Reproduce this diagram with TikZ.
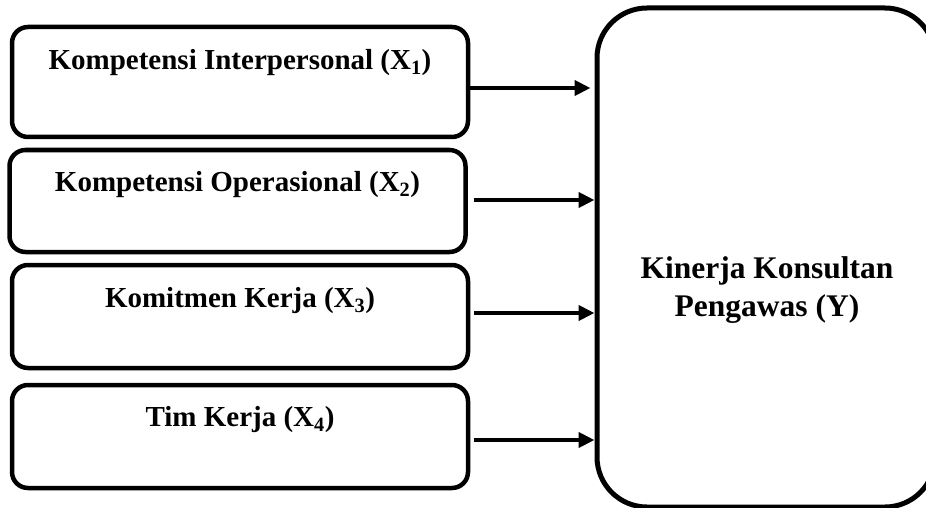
\documentclass[tikz,border=0pt]{standalone}
\usepackage{fontspec}
\setmainfont{Liberation Serif}
\usetikzlibrary{arrows.meta, calc}

\tikzset{
    varbox/.style={draw=black, line width=4.5pt, rounded corners=16pt, minimum width=456pt, inner sep=0pt},
    vartext/.style={anchor=base, inner sep=0pt, font=\bfseries\fontsize{29}{34}\selectfont},
    ybox/.style={draw=black, line width=5pt, rounded corners=50pt, minimum width=338pt, minimum height=499pt, inner sep=0pt},
    ytext/.style={align=center, inner sep=0pt, font=\bfseries\fontsize{31.5}{38}\selectfont},
    arr/.style={-{Triangle[length=16pt, width=15pt]}, line width=4.5pt},
}

\begin{document}
\begin{tikzpicture}[x=1pt, y=-1pt]
    % Canvas in pixel units of the reference (big box runs off the right edge)
    \useasboundingbox (0, 0) rectangle (926, 508);

    % ----------------------------------------------------
    % LEFT: independent variables
    % ----------------------------------------------------
    \node[varbox, minimum height=110pt] (x1) at (240, 82) {};
    \node[vartext] (t1) at ($(x1.north)+(0, 45)$) {Kompetensi Interpersonal (X\textsubscript{1})};

    \node[varbox, minimum height=102pt] (x2) at (237.5, 201) {};
    \node[vartext] (t2) at ($(x2.north)+(0, 44)$) {Kompetensi Operasional (X\textsubscript{2})};

    \node[varbox, minimum height=103pt] (x3) at (240, 316.5) {};
    \node[vartext] (t3) at ($(x3.north)+(0, 45)$) {Komitmen Kerja (X\textsubscript{3})};

    \node[varbox, minimum height=103pt] (x4) at (240, 436.5) {};
    \node[vartext] (t4) at ($(x4.north)+(0, 44)$) {Tim Kerja (X\textsubscript{4})};

    % ----------------------------------------------------
    % RIGHT: dependent variable
    % ----------------------------------------------------
    \node[ybox] (y) at (766, 257.5) {};
    \node[ytext] (yt) at ($(y.center)+(1, 33)$) {Kinerja Konsultan\\Pengawas (Y)};

    % ----------------------------------------------------
    % Arrows X -> Y
    % ----------------------------------------------------
    \coordinate (a1) at ($(x1.east)+(0, 6)$);
    \coordinate (a2) at ($(x2.east)+(0, -1)$);
    \coordinate (a3) at ($(x3.east)+(0, -3.5)$);
    \coordinate (a4) at ($(x4.east)+(0, 3.5)$);

    \draw[arr, shorten >=4pt] (a1) -- (a1 -| y.west);
    \draw[arr, shorten <=6pt] (a2) -- (a2 -| y.west);
    \draw[arr, shorten <=4pt] (a3) -- (a3 -| y.west);
    \draw[arr, shorten <=4pt] (a4) -- (a4 -| y.west);

\end{tikzpicture}
\end{document}
